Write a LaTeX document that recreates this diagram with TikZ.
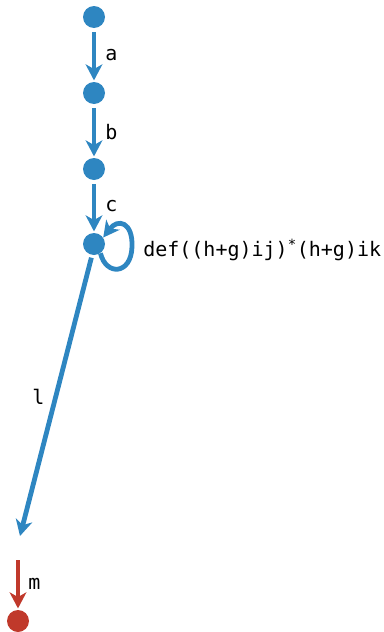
\documentclass[tikz,border=0pt]{standalone}
\usepackage{fontspec}
\setmonofont{DejaVu Sans Mono}
\usetikzlibrary{arrows.meta}
\definecolor{eblue}{RGB}{46,134,193}
\definecolor{ered}{RGB}{192,57,43}
\begin{document}
\begin{tikzpicture}[x=0.75pt,y=-0.75pt,
  vert/.style={circle,fill=#1,inner sep=0pt,minimum size=16.5pt},
  edge/.style={draw=#1,line width=3.6pt,-{Stealth[length=12pt,width=12.5pt,inset=3.5pt]}},
  lab/.style={font=\ttfamily\fontsize{15}{17}\selectfont,anchor=west,inner sep=0pt}]
\useasboundingbox (0,0) rectangle (384,632);
\node[vert=eblue] (n1) at (94,17) {};
\node[vert=eblue] (n2) at (94,93) {};
\node[vert=eblue] (n3) at (94,169) {};
\node[vert=eblue] (n4) at (94,244) {};
\node[vert=ered] (n5) at (18,621) {};
\coordinate (lend) at (20,536);
\coordinate (mstart) at (18,560);
\coordinate (loopr) at (132,247);
\draw[edge=eblue,shorten <=3pt,shorten >=1pt] (n1) -- (n2);
\draw[edge=eblue,shorten <=3pt,shorten >=1pt] (n2) -- (n3);
\draw[edge=eblue,shorten <=3pt,shorten >=1pt] (n3) -- (n4);
\draw[edge=eblue,shorten <=2pt] (n4.-100) -- (lend);
\draw[edge=ered,shorten >=1pt] (mstart) -- (n5);
\draw[edge=eblue] (n4.-55) .. controls (106,276) and (131,275) .. (loopr)
  .. controls (133,222) and (118,218) .. (n4.35);
\node[lab] (la) at (105,55) {a};
\node[lab] (lb) at (105,132) {b};
\node[lab] (lc) at (105,206) {c};
\node[lab] (ll) at (32,397) {l};
\node[lab] (lm) at (28,584) {m};
\node[lab] (lloop) at (143,250) {def((h+g)ij)\textsuperscript{*}(h+g)ik};
\end{tikzpicture}
\end{document}
